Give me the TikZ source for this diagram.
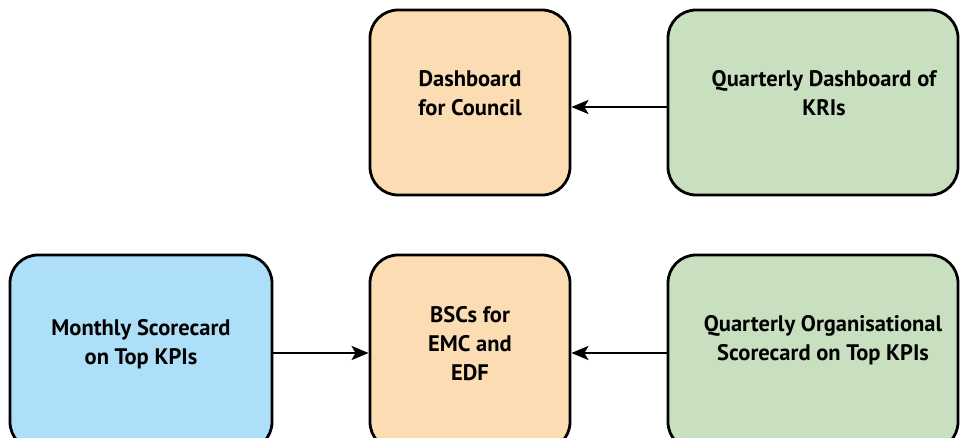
\documentclass[tikz,border=0pt]{standalone}
\usepackage{fontspec}
\setmainfont{PT Sans}
\usetikzlibrary{arrows.meta}
\definecolor{orangefill}{HTML}{FCDDB3}
\definecolor{greenfill}{HTML}{C8DFC0}
\definecolor{bluefill}{HTML}{ADE0F8}
\tikzset{
  box/.style={draw=black, line width=2.8pt, rounded corners=28pt, inner sep=0pt},
  lbl/.style={font=\bfseries\fontsize{22.5}{29}\selectfont, align=center, inner sep=0pt},
  arr/.style={line width=2.4pt, -{Stealth[length=17pt,width=14pt,inset=4pt]}}
}
\begin{document}
\begin{tikzpicture}[x=1pt,y=-1pt]
\useasboundingbox (0,0) rectangle (960,438);
\fill[white] (0,0) rectangle (960,438);
% boxes
\node[box, fill=orangefill, minimum width=200pt, minimum height=185pt] (db) at (470,102.5) {};
\node[box, fill=greenfill, minimum width=290pt, minimum height=185pt] (qd) at (813,102.5) {};
\node[box, fill=bluefill, minimum width=262pt, minimum height=195pt] (ms) at (141,352.5) {};
\node[box, fill=orangefill, minimum width=200pt, minimum height=195pt] (bsc) at (470,352.5) {};
\node[box, fill=greenfill, minimum width=290pt, minimum height=195pt] (qo) at (813,352.5) {};
% labels
\node[lbl] (tdb) at (470,93) {Dashboard\\for Council};
\node[lbl] (tqd) at (824,93) {Quarterly Dashboard of\\KRIs};
\node[lbl] (tms) at (141,344) {Monthly Scorecard\\on Top KPIs};
\node[lbl] (tbsc) at (470,344) {BSCs for\\EMC and\\EDF};
\node[lbl] (tqo) at (823,340) {Quarterly Organisational\\Scorecard on Top KPIs};
% connectors
\draw[arr] (qd.west |- 0,107) -- (db.east |- 0,107);
\draw[arr] (ms.east |- 0,353) -- (bsc.west |- 0,353);
\draw[arr] (qo.west |- 0,353) -- (bsc.east |- 0,353);
\end{tikzpicture}
\end{document}
